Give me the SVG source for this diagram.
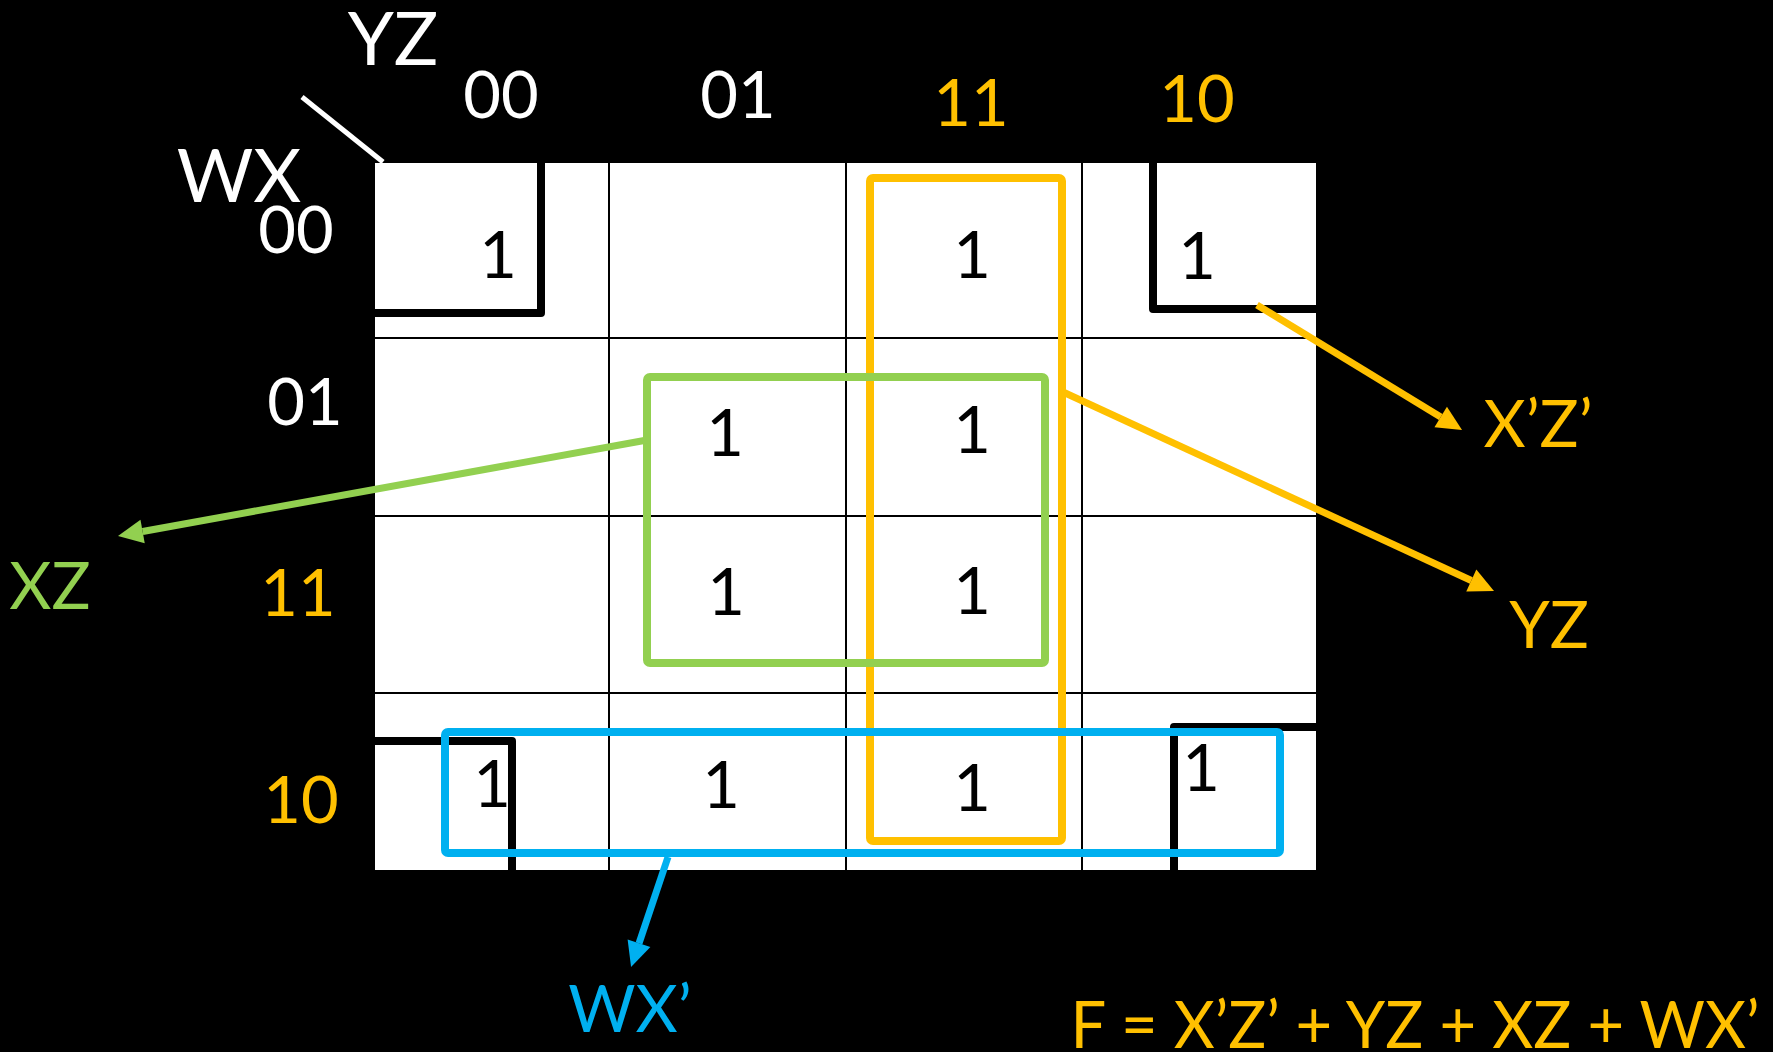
<svg xmlns="http://www.w3.org/2000/svg" width="1773" height="1052" viewBox="0 0 1773 1052">
  <style>
    text { font-family: Lato, "Open Sans", "Liberation Sans", sans-serif; text-anchor: middle; }
    .lbl { font-size: 65px; }
    .big { font-size: 74px; }
    .w { fill: #FFFFFF; }
    .o { fill: #FFC000; }
    .g { fill: #92D050; }
    .b { fill: #00B0F0; }
    .one { font-size: 65px; fill: #000000; }
    .thin { stroke: #000000; stroke-width: 2; fill: none; }
    .wrap { stroke: #000000; stroke-width: 8; fill: none; stroke-linejoin: round; }
    .loop { fill: none; stroke-width: 8; stroke-linejoin: round; }
    .arrow { fill: none; stroke-width: 7; }
  </style>
  <defs>
    <marker id="head-o" markerUnits="userSpaceOnUse" markerWidth="30" markerHeight="30" refX="0" refY="0" orient="auto" overflow="visible">
      <path d="M0,-12 L25,0 L0,12 z" fill="#FFC000"/>
    </marker>
    <marker id="head-g" markerUnits="userSpaceOnUse" markerWidth="30" markerHeight="30" refX="0" refY="0" orient="auto" overflow="visible">
      <path d="M0,-12 L25,0 L0,12 z" fill="#92D050"/>
    </marker>
    <marker id="head-b" markerUnits="userSpaceOnUse" markerWidth="30" markerHeight="30" refX="0" refY="0" orient="auto" overflow="visible">
      <path d="M0,-12 L25,0 L0,12 z" fill="#00B0F0"/>
    </marker>
  </defs>

  <rect x="0" y="0" width="1773" height="1052" fill="#000000"/>

  <!-- Karnaugh map grid -->
  <g id="kmap-grid">
    <rect x="375" y="163" width="941" height="707" fill="#FFFFFF"/>
    <path class="thin" d="M609,163 V870 M846,163 V870 M1082,163 V870 M375,338 H1316 M375,516 H1316 M375,693 H1316"/>
    <!-- wrap-around corner brackets -->
    <path class="wrap" d="M375,313 H541 V163"/>
    <path class="wrap" d="M1153,163 V309 H1316"/>
    <path class="wrap" d="M375,741 H512 V870"/>
    <path class="wrap" d="M1174,870 V727 H1316"/>
  </g>

  <!-- axis header -->
  <g id="axis-header">
    <line x1="302" y1="97" x2="383" y2="162" stroke="#FFFFFF" stroke-width="5"/>
    <text class="big w" x="393" y="65">YZ</text>
    <text class="big w" x="239" y="202">WX</text>
  </g>

  <g id="col-labels">
    <text class="lbl w" x="501" y="118">00</text>
    <text class="lbl w" x="738" y="118">01</text>
    <text class="lbl o" x="971" y="126">11</text>
    <text class="lbl o" x="1197" y="122">10</text>
  </g>

  <g id="row-labels">
    <text class="lbl w" x="296" y="253">00</text>
    <text class="lbl w" x="305" y="425">01</text>
    <text class="lbl o" x="298" y="616">11</text>
    <text class="lbl o" x="301" y="823">10</text>
  </g>

  <!-- minterms -->
  <g id="cells">
    <text class="one" x="498" y="278">1</text>
    <text class="one" x="972" y="278">1</text>
    <text class="one" x="1197" y="279">1</text>
    <text class="one" x="725" y="456">1</text>
    <text class="one" x="972" y="453">1</text>
    <text class="one" x="726" y="615">1</text>
    <text class="one" x="972" y="614">1</text>
    <text class="one" x="492" y="807">1</text>
    <text class="one" x="721" y="808">1</text>
    <text class="one" x="972" y="811">1</text>
    <text class="one" x="1201" y="791">1</text>
  </g>

  <!-- prime implicant groupings -->
  <g id="group-yz">
    <rect class="loop" x="870" y="178" width="192" height="663" rx="3" stroke="#FFC000"/>
  </g>
  <g id="group-xz">
    <rect class="loop" x="647" y="377" width="398" height="286" rx="3" stroke="#92D050"/>
  </g>
  <g id="group-wx">
    <rect class="loop" x="445" y="732" width="835" height="121" rx="3" stroke="#00B0F0"/>
  </g>

  <!-- connectors from groupings to their terms -->
  <g id="connectors">
    <path class="arrow" d="M1257,305 L1440.7,417" stroke="#FFC000" marker-end="url(#head-o)"/>
    <path class="arrow" d="M1063,392 L1471.3,580.5" stroke="#FFC000" marker-end="url(#head-o)"/>
    <path class="arrow" d="M647,440 L142.6,531.5" stroke="#92D050" marker-end="url(#head-g)"/>
    <path class="arrow" d="M668,857 L639,943.3" stroke="#00B0F0" marker-end="url(#head-b)"/>
  </g>

  <!-- term labels -->
  <g id="term-xz-prime"><text class="lbl o" x="1538" y="447">X’Z’</text></g>
  <g id="term-yz"><text class="lbl o" x="1549" y="648">YZ</text></g>
  <g id="term-xz"><text class="lbl g" x="50" y="609">XZ</text></g>
  <g id="term-wx-prime"><text class="lbl b" x="630" y="1032">WX’</text></g>

  <g id="expression">
    <text class="lbl o" x="1415" y="1048" textLength="689" lengthAdjust="spacingAndGlyphs">F = X’Z’ + YZ + XZ + WX’</text>
  </g>
</svg>
